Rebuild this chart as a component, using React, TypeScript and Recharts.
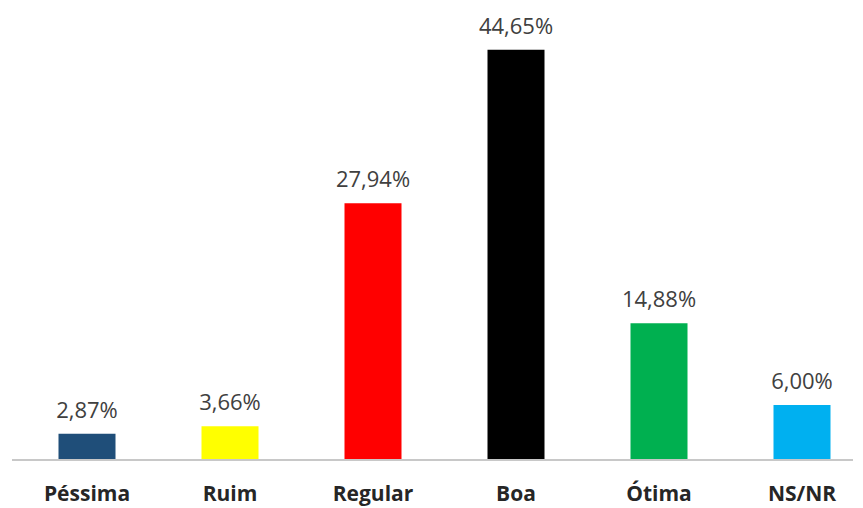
import { BarChart, Bar, XAxis, YAxis, Cell, LabelList } from 'recharts';

const categories = ['Péssima', 'Ruim', 'Regular', 'Boa', 'Ótima', 'NS/NR'];
const values = [2.87, 3.66, 27.94, 44.65, 14.88, 6.0];
const colors = ['#1F4E79', '#FFFF00', '#FF0000', '#000000', '#00B050', '#00B0F0'];

const data = categories.map((name, i) => ({ name, value: values[i] }));

const pct = (v: number) => v.toFixed(2).replace('.', ',') + '%';

export default function App() {
  return (
    <div style={{ position: 'absolute', left: 0, top: 0, width: 863, height: 508, background: '#fff' }}>
      <BarChart width={863} height={508} data={data} margin={{ top: 19, right: 10, left: 12, bottom: 18 }}>
        <XAxis
          dataKey="name"
          axisLine={{ stroke: '#c8c8c8', strokeWidth: 2 }}
          tickLine={false}
          tickMargin={20}
          padding={{ left: 3.5, right: -20.5 }}
          interval={0}
          tick={{ fill: '#262626', fontSize: 21, fontWeight: 700, fontFamily: 'Open Sans' }}
        />
        <YAxis hide domain={[0, 48]} />
        <Bar dataKey="value" barSize={57} isAnimationActive={false}>
          {data.map((d, i) => <Cell key={d.name} fill={colors[i]} />)}
          <LabelList
            dataKey="value"
            position="top"
            offset={16}
            formatter={(v: any) => pct(Number(v))}
            style={{ fill: '#404040', fontSize: 22, fontFamily: 'Open Sans' }}
          />
        </Bar>
      </BarChart>
    </div>
  );
}
